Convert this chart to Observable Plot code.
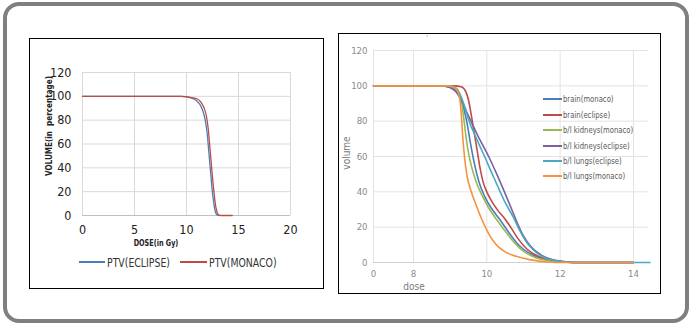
<!DOCTYPE html>
<html><head><meta charset="utf-8">
<script src="https://cdn.jsdelivr.net/npm/d3@7"></script>
<script src="https://cdn.jsdelivr.net/npm/@observablehq/plot@0.6"></script>
<style>
body{margin:0;background:#fff;}
#page{position:relative;width:692px;height:327px;overflow:hidden;font-family:"Liberation Sans Narrow","DejaVu Sans Condensed",Arial,sans-serif;}
.abs{position:absolute;}
.frame{left:3px;top:2px;width:678px;height:313px;border:4px solid #7f7f7f;border-radius:16px;}
.box{border:1px solid #000;box-sizing:border-box;}
.t{white-space:pre;line-height:1;}
svg text{font-family:"Liberation Sans Narrow","DejaVu Sans Condensed",Arial,sans-serif;}
</style></head>
<body><div id="page">
<div class="abs frame"></div>
<div class="abs box" style="left:29px;top:38px;width:295px;height:251px"></div>
<div class="abs box" style="left:338px;top:33px;width:323px;height:261px"></div>
<div id="left" class="abs" style="left:30px;top:39px"></div>
<div id="right" class="abs" style="left:338px;top:34px"></div>
</div>
<script>
// ---------- left chart data ----------
const leftXTicks = [0, 5, 10, 15, 20];
const leftYTicks = [0, 20, 40, 60, 80, 100, 120];
const ptvEclipse = [[0,100],[9.5,100],[10,99.5],[10.5,98.5],[11,96],[11.3,93],[11.6,87],[11.8,80],[12,68],[12.1,58],[12.2,48],[12.3,38],[12.4,28],[12.5,19],[12.6,12],[12.7,6],[12.8,2.5],[12.9,0.8],[13,0.2],[13.1,0]];
const ptvMonaco = [[0,100],[9.5,100],[10,99.8],[10.5,99],[11,98],[11.4,95],[11.7,90],[11.9,84],[12.1,72],[12.2,62],[12.3,52],[12.4,42],[12.5,32],[12.6,23],[12.7,15],[12.8,8],[12.9,4],[13,1.5],[13.1,0.5],[13.3,0],[14.4,0]];
const leftSeries = [
  {name: "PTV(ECLIPSE)", color: "#4a7ebb", data: ptvEclipse},
  {name: "PTV(MONACO)", color: "#be4b48", data: ptvMonaco}
];

// ---------- right chart data ----------
const rightXTicks = [0, 8, 10, 12, 14];
const rightYTicks = [0, 20, 40, 60, 80, 100, 120];
const brainMonaco = [[0,100],[8.8,100],[9.0,99],[9.15,97],[9.3,92],[9.45,80],[9.55,68],[9.65,57],[9.78,46],[9.95,37],[10.15,30],[10.33,25],[10.6,17],[10.8,11.5],[11.0,7.5],[11.3,3.8],[11.7,1.2],[12.2,0.2],[12.5,0],[14,0]];
const brainEclipse = [[0,100],[9.1,100],[9.3,99.5],[9.42,97],[9.5,92],[9.58,83],[9.66,73],[9.74,63],[9.82,53],[9.9,45.5],[10.0,40],[10.15,34],[10.3,29.5],[10.5,24.5],[10.65,20],[10.85,13.5],[11.1,7.5],[11.4,3.5],[11.8,1.2],[12.2,0.2],[12.5,0],[14,0]];
const kidneysMonaco = [[0,100],[8.95,100],[9.15,99],[9.25,96],[9.32,90],[9.38,80],[9.44,70],[9.5,62],[9.6,53],[9.72,45],[9.87,38],[10.05,31],[10.24,25],[10.42,20],[10.7,12.5],[10.96,7],[11.3,3],[11.7,1],[12.2,0.2],[12.5,0],[14,0]];
const kidneysEclipse = [[0,100],[8.8,100],[9.0,99],[9.15,97],[9.3,92],[9.5,83],[9.75,72],[10.05,60],[10.25,51],[10.5,39],[10.7,29],[10.85,21.5],[11.0,15],[11.2,9],[11.5,4],[11.8,1.5],[12.2,0.3],[12.5,0],[14,0]];
const lungsEclipse = [[0,100],[8.9,100],[9.1,99],[9.25,96],[9.4,88],[9.5,81],[9.7,71],[9.96,59],[10.15,50],[10.3,43],[10.5,34],[10.74,25],[10.9,18],[11.1,11],[11.3,6.5],[11.6,2.5],[12.0,0.6],[12.4,0],[14.45,0]];
const lungsMonaco = [[0,100],[9.0,100],[9.15,98.5],[9.25,94],[9.3,85],[9.34,72],[9.39,60],[9.46,49],[9.56,41],[9.7,33],[9.83,26],[9.96,20],[10.1,14.5],[10.24,10.5],[10.5,6],[10.8,3.5],[11.2,1.5],[11.7,0.3],[12,0],[14,0]];
const rightSeries = [
  {name: "brain(monaco)", color: "#4a7ebb", data: brainMonaco},
  {name: "brain(eclipse)", color: "#be4b48", data: brainEclipse},
  {name: "b/l kidneys(monaco)", color: "#98b954", data: kidneysMonaco},
  {name: "b/l kidneys(eclipse)", color: "#7d60a0", data: kidneysEclipse},
  {name: "b/l lungs(eclipse)", color: "#46aac5", data: lungsEclipse},
  {name: "b/l lungs(monaco)", color: "#f69240", data: lungsMonaco}
];

function rows(series) {
  return series.flatMap(s => s.data.map(([dose, vol]) => ({series: s.name, dose, vol})));
}

// ---------- left chart ----------
const leftPlot = Plot.plot({
  width: 292, height: 210,
  marginLeft: 52, marginRight: 32, marginTop: 33, marginBottom: 34,
  x: {domain: [0, 20], label: null},
  y: {domain: [0, 120], label: null},
  color: {domain: leftSeries.map(s => s.name), range: leftSeries.map(s => s.color)},
  style: {background: "transparent", overflow: "visible"},
  marks: [
    Plot.gridX(leftXTicks, {stroke: "#d9d9d9", strokeOpacity: 1}),
    Plot.gridY(leftYTicks, {stroke: "#d9d9d9", strokeOpacity: 1}),
    Plot.ruleY([0], {stroke: "#bfbfbf"}),
    Plot.axisX(leftXTicks, {tickSize: 0, tickPadding: 10, fontSize: 12.5, fill: "#222", label: null}),
    Plot.axisY(leftYTicks, {tickSize: 0, tickPadding: 11, fontSize: 12.5, fill: "#222", label: null}),
    Plot.line(rows(leftSeries), {x: "dose", y: "vol", z: "series", stroke: "series", strokeWidth: 1.3, curve: "monotone-x"})
  ]
});
document.getElementById("left").append(leftPlot);

// ---------- right chart ----------
const rightPlot = Plot.plot({
  width: 322, height: 258,
  marginLeft: 35, marginRight: 12, marginTop: 16, marginBottom: 30,
  x: {type: "linear", domain: [0, 8, 14.41], range: [35, 75, 310], label: null},
  y: {domain: [0, 120], range: [228, 16], label: null},
  color: {domain: rightSeries.map(s => s.name), range: rightSeries.map(s => s.color)},
  style: {background: "transparent", overflow: "visible"},
  marks: [
    Plot.gridX(rightXTicks, {stroke: "#e3e3e3", strokeOpacity: 1, y1: 0, y2: 120}),
    Plot.gridY(rightYTicks, {stroke: "#e3e3e3", strokeOpacity: 1}),
    Plot.ruleY([0], {stroke: "#d0d0d0"}),
    Plot.axisX(rightXTicks, {tickSize: 0, tickPadding: 8, fontSize: 9.5, fill: "#8a8a8a", label: null}),
    Plot.axisY(rightYTicks, {tickSize: 0, tickPadding: 6, fontSize: 9.5, fill: "#8a8a8a", label: null}),
    Plot.line(rows(rightSeries), {x: "dose", y: "vol", z: "series", stroke: "series", strokeWidth: 1.6, curve: "monotone-x"})
  ]
});
document.getElementById("right").append(rightPlot);

// ---------- html text: titles and legends ----------
const page = document.getElementById("page");
function text(str, x, y, opts = {}) {
  const d = document.createElement("div");
  d.className = "abs t";
  d.textContent = str;
  d.style.fontSize = (opts.size || 10) + "px";
  d.style.color = opts.color || "#333";
  if (opts.bold) d.style.fontWeight = "bold";
  d.style.left = x + "px";
  d.style.top = y + "px";
  const mid = opts.anchor === "middle";
  d.style.transformOrigin = mid ? "50% 50%" : "0 50%";
  let tf = "translate(" + (mid ? "-50%" : "0") + ",-50%)";
  if (opts.rotate) tf += " rotate(" + opts.rotate + "deg)";
  if (opts.sx) tf += " scaleX(" + opts.sx + ")";
  d.style.transform = tf;
  page.append(d);
  return d;
}
function swatch(x, y, w, color, h) {
  const d = document.createElement("div");
  d.className = "abs";
  d.style.cssText = `left:${x}px;top:${y - h / 2}px;width:${w}px;height:${h}px;background:${color}`;
  page.append(d);
}
// left titles
text("DOSE(in Gy)", 156, 243, {size: 8.5, bold: true, anchor: "middle", color: "#222", sx: 0.85});
text("VOLUME(in  percentage)", 49, 126, {size: 8.5, bold: true, anchor: "middle", rotate: -90, color: "#222", sx: 0.95});
// left legend
const leftLegend = [[79, 26, 107], [180, 27, 209]];
leftSeries.forEach((s, i) => {
  const [sx, sw, tx] = leftLegend[i];
  swatch(sx, 262, sw, s.color, 1.3);
  text(s.name, tx, 262, {size: 13, color: "#333", sx: 0.8});
});
// right titles
text("volume", 347, 153, {size: 10, anchor: "middle", rotate: -90, color: "#7a7a7a"});
text("dose", 414, 287, {size: 10, anchor: "middle", color: "#7a7a7a"});
text("'", 427, 38, {size: 7, anchor: "middle", color: "#777"});
// right legend
const rightLegendY = [99.3, 114.7, 130, 145.7, 161, 176.3];
rightSeries.forEach((s, i) => {
  swatch(543, rightLegendY[i], 19, s.color, 2);
  text(s.name, 563, rightLegendY[i], {size: 9, color: "#595959", sx: 0.85});
});
</script>
</body></html>
